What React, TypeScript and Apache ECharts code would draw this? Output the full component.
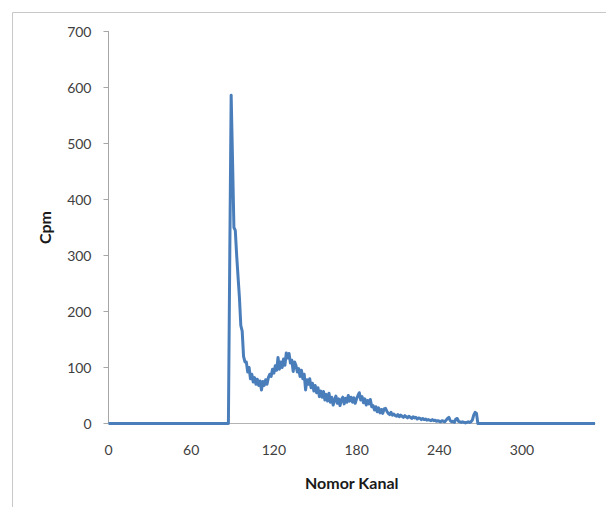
import React, { useEffect, useRef } from "react";
import * as echarts from "echarts";

// Channel range of the axis and of the recorded counts
const firstChannel = 0;
const lastChannel = 353;
const countsStart = 86;
// Cpm per channel from channel 86 to 268 (zero outside this range)
const counts: number[] = [
  0, 0, 300, 586, 470, 350, 345, 300, 262, 225, // 86-95
  175, 165, 120, 110, 110, 92, 100, 80, 88, 74, // 96-105
  82, 70, 79, 68, 76, 60, 75, 68, 78, 70, // 106-115
  82, 88, 84, 97, 90, 103, 95, 118, 97, 110, // 116-125
  100, 115, 104, 126, 117, 125, 108, 113, 93, 110, // 126-135
  104, 92, 98, 84, 95, 80, 88, 60, 78, 70, // 136-145
  80, 64, 72, 58, 68, 55, 64, 48, 58, 47, // 146-155
  57, 42, 52, 40, 54, 38, 47, 33, 42, 49, // 156-165
  36, 44, 32, 43, 47, 35, 45, 38, 50, 40, // 166-175
  47, 38, 46, 36, 44, 50, 55, 42, 48, 37, // 176-185
  44, 33, 41, 35, 43, 30, 32, 24, 30, 21, // 186-195
  28, 19, 25, 18, 26, 27, 22, 18, 16, 20, // 196-205
  15, 17, 14, 13, 16, 12, 15, 13, 11, 14, // 206-215
  12, 10, 13, 11, 9, 12, 10, 11, 8, 10, // 216-225
  9, 7, 9, 7, 8, 6, 7, 6, 5, 7, // 226-235
  5, 6, 4, 5, 4, 3, 5, 4, 3, 6, // 236-245
  9, 11, 5, 3, 4, 2, 8, 9, 4, 3, // 246-255
  2, 3, 2, 1, 2, 3, 2, 3, 6, 15, // 256-265
  20, 18, 0, // 266-268
];

const xTickInterval = 60;
const yMax = 700;
const yTickInterval = 100;
const xTitle = "Nomor Kanal";
const yTitle = "Cpm";

export default function App() {
  const ref = useRef<HTMLDivElement>(null);

  useEffect(() => {
    if (!ref.current) return;
    const chart = echarts.init(ref.current, undefined, { renderer: "svg" });

    const data: [number, number][] = [];
    for (let ch = firstChannel; ch <= lastChannel; ch++) {
      const i = ch - countsStart;
      const v = i >= 0 && i < counts.length ? counts[i] : 0;
      data.push([ch, v]);
    }

    const font = "Lato, 'Open Sans', sans-serif";

    chart.setOption({
      animation: false,
      backgroundColor: "#ffffff",
      graphic: [
        {
          type: "rect",
          shape: { x: 12.5, y: 12.5, width: 620, height: 520 },
          style: { fill: "none", stroke: "#c8c8c8", lineWidth: 1 },
          silent: true,
        },
      ],
      grid: { left: 108.5, right: 11, top: 31.5, bottom: 83.5, containLabel: false },
      xAxis: {
        type: "value",
        min: firstChannel,
        max: lastChannel,
        interval: xTickInterval,
        name: xTitle,
        nameLocation: "middle",
        nameGap: 51,
        nameTextStyle: { fontFamily: font, fontSize: 16, fontWeight: "bold", color: "#1a1a1a" },
        axisLine: { show: true, lineStyle: { color: "#b3b3b3", width: 1 } },
        axisTick: { show: false },
        axisLabel: {
          showMaxLabel: false,
          margin: 19,
          fontFamily: font,
          fontSize: 14,
          color: "#404040",
        },
        splitLine: { show: false },
      },
      yAxis: {
        type: "value",
        min: 0,
        max: yMax,
        interval: yTickInterval,
        name: yTitle,
        nameLocation: "middle",
        nameGap: 56,
        nameTextStyle: { fontFamily: font, fontSize: 16, fontWeight: "bold", color: "#1a1a1a" },
        axisLine: { show: true, lineStyle: { color: "#a6a6a6", width: 1 } },
        axisTick: { show: true, inside: false, length: 5, lineStyle: { color: "#a6a6a6" } },
        axisLabel: { margin: 17, fontFamily: font, fontSize: 14, color: "#404040" },
        splitLine: { show: false },
      },
      series: [
        {
          type: "line",
          data,
          showSymbol: false,
          symbol: "none",
          lineStyle: { color: "#4a7ebb", width: 3, join: "round" },
          itemStyle: { color: "#4a7ebb" },
        },
      ],
    });

    return () => chart.dispose();
  }, []);

  return (
    <div
      ref={ref}
      style={{ position: "absolute", left: 0, top: 0, width: 606, height: 507 }}
    />
  );
}
